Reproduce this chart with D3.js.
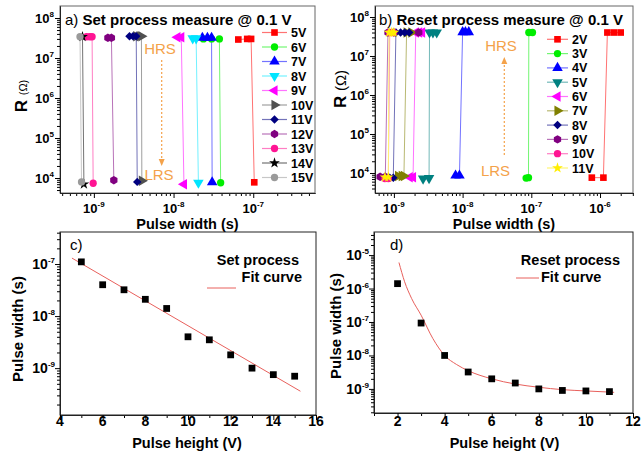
<!DOCTYPE html>
<html>
<head>
<meta charset="utf-8">
<script src="https://cdn.jsdelivr.net/npm/d3@7"></script>
<style>
  body { margin: 0; background: #fff; }
  svg { display: block; font-family: "Liberation Sans", Arial, sans-serif; }
</style>
</head>
<body>
<div id="chart"></div>
<script>
// ---- data ----

// a) set process: pulse width (s) and resistance (ohm) for each pulse height
const setLabels = ["5V", "6V", "7V", "8V", "9V", "10V", "11V", "12V", "13V", "14V", "15V"];
const setWidths = [
  [6.5e-8, 8.4e-8, 9.4e-8, 1.03e-7],
  [2.37e-8, 3.0e-8, 3.76e-8, 3.9e-8],
  [2.3e-8, 2.66e-8, 3.0e-8, 3.05e-8],
  [1.74e-8, 1.92e-8, 2.05e-8],
  [1.12e-8, 1.25e-8, 1.35e-8],
  [3.4e-9, 3.75e-9, 3.95e-9, 4.0e-9],
  [2.8e-9, 3.1e-9, 3.4e-9, 3.5e-9],
  [1.5e-9, 1.66e-9, 1.78e-9],
  [8.1e-10, 8.9e-10, 9.5e-10, 9.8e-10],
  [7.2e-10, 7.5e-10],
  [6.7e-10, 7.0e-10]
];
const setR = [
  [2.9e7, 3.0e7, 3.0e7, 7.8e3],
  [3.0e7, 3.0e7, 3.0e7, 7.6e3],
  [3.2e7, 3.2e7, 3.2e7, 7.8e3],
  [3.1e7, 3.1e7, 7.6e3],
  [3.3e7, 3.3e7, 7.0e3],
  [3.5e7, 3.5e7, 3.5e7, 8.5e3],
  [3.5e7, 3.5e7, 3.5e7, 8.0e3],
  [3.2e7, 3.2e7, 8.8e3],
  [3.4e7, 3.4e7, 3.4e7, 7.4e3],
  [3.4e7, 7.0e3],
  [3.4e7, 8.0e3]
];

// b) reset process
const resetLabels = ["2V", "3V", "4V", "5V", "6V", "7V", "8V", "9V", "10V", "11V"];
const resetWidths = [
  [7.6e-7, 1.12e-6, 1.28e-6, 1.6e-6, 2.0e-6],
  [8.4e-8, 9.1e-8, 9.2e-8, 1.04e-7],
  [7.9e-9, 9.0e-9, 1.0e-8, 1.1e-8, 1.23e-8],
  [2.66e-9, 3.25e-9, 3.3e-9, 3.7e-9, 4.2e-9],
  [1.7e-9, 1.9e-9, 2.08e-9, 2.33e-9, 2.57e-9],
  [1.15e-9, 1.3e-9, 1.4e-9, 1.53e-9, 1.8e-9],
  [8.7e-10, 9.8e-10, 1.07e-9, 1.25e-9, 1.44e-9, 1.67e-9],
  [6.3e-10, 7.5e-10, 8.2e-10, 1.0e-9, 2.3e-9],
  [7.4e-10, 8.3e-10, 8.7e-10, 9.8e-10],
  [7.4e-10, 8.3e-10, 8.5e-10, 9.3e-10, 1.0e-9]
];
const resetR = [
  [7.6e3, 7.6e3, 4.0e7, 4.0e7, 4.0e7],
  [7.4e3, 7.6e3, 4.0e7, 4.0e7],
  [8.6e3, 8.6e3, 4.1e7, 4.1e7, 4.1e7],
  [7.2e3, 7.4e3, 4.0e7, 4.0e7, 4.0e7],
  [7.8e3, 7.8e3, 4.0e7, 4.0e7, 4.0e7],
  [8.4e3, 8.4e3, 8.4e3, 4.0e7, 4.0e7],
  [7.6e3, 7.6e3, 4.0e7, 4.0e7, 4.0e7, 4.0e7],
  [8.0e3, 8.0e3, 4.0e7, 4.0e7, 4.0e7],
  [7.2e3, 7.2e3, 4.0e7, 4.0e7],
  [7.8e3, 7.8e3, 4.0e7, 4.0e7, 4.0e7]
];

// c) set: pulse width vs pulse height
const setHeights = [5, 6, 7, 8, 9, 10, 11, 12, 13, 14, 15];
const setPulse = [1.1e-7, 4.0e-8, 3.2e-8, 2.1e-8, 1.4e-8, 4.0e-9, 3.5e-9, 1.8e-9, 1.0e-9, 7.5e-10, 7.0e-10];
const setFitX = [4.56, 15.27];
const setFitY = [1.3e-7, 3.6e-10];

// d) reset: pulse width vs pulse height
const resetHeights = [2, 3, 4, 5, 6, 7, 8, 9, 10, 11];
const resetPulse = [1.4e-6, 9.3e-8, 1.0e-8, 3.2e-9, 2.0e-9, 1.5e-9, 1.0e-9, 9.0e-10, 8.7e-10, 8.3e-10];
const resetFitX = [2.06, 2.3, 2.6, 3.0, 3.5, 4.0, 4.5, 5.0, 6.0, 7.0, 8.0, 9.0, 10.0, 11.2];
const resetFitY = [6.0e-6, 1.6e-6, 5.0e-7, 1.6e-7, 3.2e-8, 1.0e-8, 5.4e-9, 3.5e-9, 2.0e-9, 1.4e-9, 1.12e-9, 9.5e-10, 8.7e-10, 7.9e-10];

// marker styles (Origin-like)
const setStyles = [
  {shape: "square", color: "#ff0000"},
  {shape: "circle", color: "#00ee00"},
  {shape: "triangle", color: "#0000ff", rot: 0},
  {shape: "triangle", color: "#00e5ff", rot: 180},
  {shape: "triangle", color: "#ff00ff", rot: -90},
  {shape: "triangle", color: "#505050", rot: 90},
  {shape: "diamond", color: "#000080"},
  {shape: "hex", color: "#800080"},
  {shape: "circle", color: "#ff1493"},
  {shape: "star", color: "#000000"},
  {shape: "circle", color: "#9a9a9a"}
];
const resetStyles = [
  {shape: "square", color: "#ff0000"},
  {shape: "circle", color: "#00ee00"},
  {shape: "triangle", color: "#0000ff", rot: 0},
  {shape: "triangle", color: "#008080", rot: 180},
  {shape: "triangle", color: "#ff00ff", rot: -90},
  {shape: "triangle", color: "#808000", rot: 90},
  {shape: "diamond", color: "#000080"},
  {shape: "hex", color: "#800080"},
  {shape: "circle", color: "#ff1493"},
  {shape: "star", color: "#ffee00"}
];

const orange = "#f4a24a";

// ---- helpers ----
const symbolHex = {
  draw(ctx, size) {
    const r = Math.sqrt(size * 2 / (3 * Math.sqrt(3)));
    for (let i = 0; i < 6; i++) {
      const a = Math.PI / 3 * i + Math.PI / 6;
      if (i === 0) ctx.moveTo(r * Math.cos(a), r * Math.sin(a));
      else ctx.lineTo(r * Math.cos(a), r * Math.sin(a));
    }
    ctx.closePath();
  }
};
const shapes = {
  square: d3.symbolSquare, circle: d3.symbolCircle, triangle: d3.symbolTriangle,
  star: d3.symbolStar, diamond: d3.symbolSquare, hex: symbolHex
};
const sizes = {square: 44, circle: 42, triangle: 48, star: 36, diamond: 36, hex: 46};

function marker(g, x, y, st) {
  const rot = st.shape === "diamond" ? 45 : (st.rot || 0);
  g.append("path")
    .attr("d", d3.symbol().type(shapes[st.shape]).size(sizes[st.shape])())
    .attr("transform", `translate(${x},${y}) rotate(${rot})`)
    .attr("fill", st.color);
}
function lighter(c) { return d3.interpolateRgb(c, "#ffffff")(0.45); }

function majorLog(lo, hi) {
  const out = [];
  for (let e = Math.ceil(Math.log10(lo) - 1e-9); Math.pow(10, e) <= hi * (1 + 1e-9); e++) out.push(Math.pow(10, e));
  return out;
}
function minorLog(lo, hi) {
  const out = [];
  for (let e = Math.floor(Math.log10(lo)); e <= Math.ceil(Math.log10(hi)); e++) {
    for (let k = 2; k < 10; k++) {
      const v = k * Math.pow(10, e);
      if (v >= lo && v <= hi) out.push(v);
    }
  }
  return out;
}
function powLabel(g, x, y, v, anchor, fs) {
  const t = g.append("text").attr("x", x).attr("y", y)
    .attr("text-anchor", anchor).attr("font-weight", "bold").attr("font-size", fs);
  t.append("tspan").text("10");
  t.append("tspan").attr("dy", -6).attr("font-size", 8).text(Math.round(Math.log10(v)));
}

const svg = d3.select("#chart").append("svg").attr("width", 641).attr("height", 456);
svg.append("rect").attr("width", 641).attr("height", 456).attr("fill", "#fff");

function frame(x, y, frameColor) {
  const [x0, x1] = x.range(), [y1, y0] = y.range();
  svg.append("rect").attr("x", x0).attr("y", y0).attr("width", x1 - x0).attr("height", y1 - y0)
    .attr("fill", "none").attr("stroke", frameColor).attr("stroke-width", 1);
}
function axisY(y, xPos, ticksMajor, ticksMinor) {
  svg.append("g").attr("transform", `translate(${xPos},0)`)
    .call(d3.axisLeft(y).tickValues(ticksMinor).tickSize(3).tickSizeOuter(0).tickFormat(""));
  svg.append("g").attr("transform", `translate(${xPos},0)`)
    .call(d3.axisLeft(y).tickValues(ticksMajor).tickSize(5).tickSizeOuter(0).tickFormat(""));
}
function axisX(x, yPos, ticksMajor, ticksMinor) {
  svg.append("g").attr("transform", `translate(0,${yPos})`)
    .call(d3.axisBottom(x).tickValues(ticksMinor).tickSize(3).tickSizeOuter(0).tickFormat(""));
  svg.append("g").attr("transform", `translate(0,${yPos})`)
    .call(d3.axisBottom(x).tickValues(ticksMajor).tickSize(5).tickSizeOuter(0).tickFormat(""));
}
function boldText(x, y, txt, fs, anchor) {
  return svg.append("text").attr("x", x).attr("y", y).attr("font-weight", "bold")
    .attr("font-size", fs).attr("text-anchor", anchor || "start").text(txt);
}

// ---- panels a & b ----
function switchPanel(p) {
  const x = d3.scaleLog().domain(p.xDom).range(p.xRange);
  const y = d3.scaleLog().domain(p.yDom).range(p.yRange);
  frame(x, y, "#666");
  const xMaj = majorLog(...p.xDom), yMaj = majorLog(...p.yDom);
  axisY(y, p.xRange[0], yMaj, minorLog(...p.yDom));
  axisX(x, p.yRange[0], xMaj, minorLog(...p.xDom));
  svg.selectAll(".domain").attr("stroke", "#222");
  yMaj.forEach(v => powLabel(svg, p.xRange[0] - 6, y(v) + 5, v, "end", 13));
  xMaj.forEach(v => powLabel(svg, x(v), 213, v, "middle", 13));

  const line = d3.line().x(d => x(d[0])).y(d => y(d[1]));
  const g = svg.append("g");
  p.widths.forEach((w, i) => {
    const pts = w.map((v, j) => [v, p.res[i][j]]);
    g.append("path").attr("d", line(pts)).attr("fill", "none")
      .attr("stroke", lighter(p.styles[i].color)).attr("stroke-width", 1);
  });
  p.widths.forEach((w, i) => {
    w.forEach((v, j) => marker(g, x(v), y(p.res[i][j]), p.styles[i]));
  });

  // legend
  p.labels.forEach((lab, i) => {
    const ly = p.leg.y0 + i * p.leg.dy;
    svg.append("line").attr("x1", p.leg.x0).attr("x2", p.leg.x1).attr("y1", ly).attr("y2", ly)
      .attr("stroke", lighter(p.styles[i].color)).attr("stroke-width", 1.2);
    marker(svg, (p.leg.x0 + p.leg.x1) / 2, ly, p.styles[i]);
    boldText(p.leg.x1 + 4, ly + 4.5, lab, 12.5);
  });

  // title
  const t = svg.append("text").attr("x", p.titleX).attr("y", p.titleY).attr("font-size", 15);
  t.append("tspan").text(p.tag + " ");
  t.append("tspan").attr("font-weight", "bold").text(p.title);

  // y label
  const yl = svg.append("text").attr("transform", `translate(${p.ylab[0]},${p.ylab[1]}) rotate(-90)`)
    .attr("text-anchor", "middle");
  yl.append("tspan").attr("font-weight", "bold").attr("font-size", 17).text("R ");
  yl.append("tspan").attr("font-size", p.omegaSize).text("(Ω)");

  boldText((p.xRange[0] + p.xRange[1]) / 2, 229, "Pulse width (s)", 14.5, "middle");

  // HRS / LRS annotation with dotted arrow
  svg.append("text").attr("x", p.hrs[0]).attr("y", p.hrs[1]).attr("text-anchor", "middle")
    .attr("font-size", 15).attr("fill", orange).text("HRS");
  svg.append("text").attr("x", p.lrs[0]).attr("y", p.lrs[1]).attr("text-anchor", "middle")
    .attr("font-size", 15).attr("fill", orange).text("LRS");
  const [ax, ay0, ay1] = p.arrow;
  const dir = Math.sign(ay1 - ay0);
  svg.append("line").attr("x1", ax).attr("x2", ax).attr("y1", ay0).attr("y2", ay1 - dir * 5)
    .attr("stroke", orange).attr("stroke-width", 1.2).attr("stroke-dasharray", "2,2");
  svg.append("path")
    .attr("d", `M${ax - 3},${ay1 - dir * 7} L${ax + 3},${ay1 - dir * 7} L${ax},${ay1} Z`)
    .attr("fill", orange);
}

switchPanel({
  xDom: [Math.pow(10, -9.425), Math.pow(10, -6.225)], xRange: [60, 315],
  yDom: [Math.pow(10, 3.625), Math.pow(10, 8.3)], yRange: [193, 6],
  widths: setWidths, res: setR, styles: setStyles, labels: setLabels,
  leg: {x0: 262, x1: 287, y0: 32.5, dy: 14.5},
  tag: "a)", title: "Set process measure @ 0.1 V", titleX: 65, titleY: 24.5,
  ylab: [27, 96], omegaSize: 11,
  hrs: [160, 54], lrs: [159, 180], arrow: [161.7, 60, 166]
});

switchPanel({
  xDom: [Math.pow(10, -9.275), Math.pow(10, -5.52)], xRange: [375, 633],
  yDom: [Math.pow(10, 3.487), Math.pow(10, 8.282)], yRange: [193, 6],
  widths: resetWidths, res: resetR, styles: resetStyles, labels: resetLabels,
  leg: {x0: 547, x1: 568, y0: 39.3, dy: 14.3},
  tag: "b)", title: "Reset process measure @ 0.1 V", titleX: 379, titleY: 24.5,
  ylab: [345.5, 89], omegaSize: 15,
  hrs: [501, 50.7], lrs: [495.5, 176], arrow: [504.3, 155, 57]
});

// ---- panels c & d ----
function fitPanel(p) {
  const x = d3.scaleLinear().domain(p.xDom).range(p.xRange);
  const y = d3.scaleLog().domain(p.yDom).range(p.yRange);
  frame(x, y, "#222");
  const yMaj = majorLog(...p.yDom);
  axisY(y, p.xRange[0], yMaj, minorLog(...p.yDom));
  axisX(x, p.yRange[0], p.xMajor, p.xMinor);
  svg.selectAll(".domain").attr("stroke", "#222");
  yMaj.forEach(v => powLabel(svg, p.xRange[0] - 5, y(v) + 5, v, "end", 14));
  p.xMajor.forEach(v => boldText(x(v), 426, String(v), 14, "middle"));

  const line = d3.line().x(d => x(d[0])).y(d => y(d[1])).curve(d3.curveMonotoneX);
  svg.append("path").attr("d", line(p.fitX.map((v, i) => [v, p.fitY[i]])))
    .attr("fill", "none").attr("stroke", "#e8605c").attr("stroke-width", 1);
  p.hx.forEach((v, i) => {
    svg.append("path").attr("d", d3.symbol().type(d3.symbolSquare).size(46)())
      .attr("transform", `translate(${x(v)},${y(p.pw[i])})`).attr("fill", "#000");
  });

  svg.append("text").attr("x", p.tagPos[0]).attr("y", p.tagPos[1]).attr("font-size", 15).text(p.tag);
  boldText(p.leg1[0], p.leg1[1], p.leg1[2], 14.5, "end");
  boldText(p.leg2[0], p.leg2[1], "Fit curve", 14.5, p.leg2[2]);
  svg.append("line").attr("x1", p.legLine[0]).attr("x2", p.legLine[1])
    .attr("y1", p.legLine[2]).attr("y2", p.legLine[2])
    .attr("stroke", "#e8605c").attr("stroke-width", 1);

  svg.append("text").attr("transform", `translate(${p.ylab[0]},${p.ylab[1]}) rotate(-90)`)
    .attr("text-anchor", "middle").attr("font-weight", "bold").attr("font-size", 15)
    .text("Pulse width (s)");
  boldText((p.xRange[0] + p.xRange[1]) / 2 + p.xlabShift, 448, "Pulse height (V)", 14.5, "middle");
}

fitPanel({
  xDom: [4, 16], xRange: [60, 316], yDom: [Math.pow(10, -9.9), Math.pow(10, -6.385)], yRange: [415, 232],
  xMajor: [4, 6, 8, 10, 12, 14, 16], xMinor: [5, 7, 9, 11, 13, 15],
  hx: setHeights, pw: setPulse, fitX: setFitX, fitY: setFitY,
  tag: "c)", tagPos: [70, 250],
  leg1: [299, 265, "Set process"], leg2: [302, 282, "end"], legLine: [207, 236, 288],
  ylab: [23, 329], xlabShift: -1
});

fitPanel({
  xDom: [1, 12], xRange: [374, 633], yDom: [Math.pow(10, -9.72), Math.pow(10, -4.31)], yRange: [413, 232],
  xMajor: [2, 4, 6, 8, 10, 12], xMinor: [1, 3, 5, 7, 9, 11],
  hx: resetHeights, pw: resetPulse, fitX: resetFitX, fitY: resetFitY,
  tag: "d)", tagPos: [390, 250],
  leg1: [620, 265, "Reset process"], leg2: [541, 282, "start"], legLine: [516, 539, 278],
  ylab: [341, 326], xlabShift: 1
});
</script>
</body>
</html>
